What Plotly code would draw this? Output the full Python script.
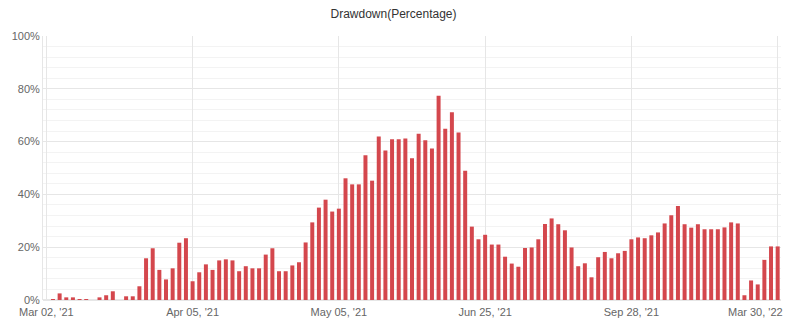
import plotly.graph_objects as go

# Drawdown per period, in percent
drawdown = [
    0.0, 0.3, 2.5, 1.0, 1.0, 0.3, 0.3, 0.0, 1.0, 1.8,
    3.3, 0.0, 1.4, 1.4, 5.2, 15.8, 19.6, 11.4, 7.8, 12.0,
    21.7, 23.4, 7.1, 10.5, 13.5, 11.4, 15.0, 15.4, 15.0, 10.9,
    12.8, 12.0, 12.0, 17.2, 19.6, 10.9, 10.9, 13.1, 14.3, 21.8,
    29.4, 35.0, 38.0, 33.5, 34.6, 46.1, 43.8, 43.8, 54.8, 45.2,
    61.9, 56.6, 60.9, 60.9, 61.2, 53.7, 63.0, 60.5, 57.4, 77.4,
    64.9, 71.1, 63.4, 49.0, 27.8, 23.0, 24.7, 21.0, 21.0, 16.4,
    13.8, 12.6, 19.7, 19.9, 23.0, 28.8, 30.9, 28.7, 26.4, 19.9,
    12.8, 13.9, 8.6, 16.2, 18.2, 15.8, 17.7, 18.6, 23.0, 23.7,
    23.4, 24.5, 25.6, 29.0, 32.1, 35.6, 28.7, 27.4, 28.7, 26.8,
    26.8, 26.8, 27.5, 29.4, 29.0, 1.8, 7.4, 5.9, 15.2, 20.3,
    20.3,
]

# Labelled periods on the category axis
tick_index = [0, 22, 44, 66, 88, 110]
tick_labels = ["Mar 02, '21", "Apr 05, '21", "May 05, '21",
               "Jun 25, '21", "Sep 28, '21", "Mar 30, '22"]

y_ticks = [0, 20, 40, 60, 80, 100]
y_labels = [f"{v}%" for v in y_ticks]

FONT = "Liberation Sans, Arial, sans-serif"
BAR = "#d4474d"
GRID = "#e6e6e6"
MINOR = "#f3f3f3"

x = list(range(len(drawdown)))

fig = go.Figure(
    go.Bar(x=x, y=drawdown, marker=dict(color=BAR, line=dict(width=0)),
           hoverinfo="y")
)

# The last label is right-aligned to its tick so it stays inside the page
shown_text = tick_labels[:-1] + [""]

fig.update_layout(
    width=787,
    height=329,
    margin=dict(l=43, r=6, t=36, b=29),
    paper_bgcolor="white",
    plot_bgcolor="white",
    bargap=0.4,
    showlegend=False,
    font=dict(family=FONT, size=11, color="#666666"),
    title=dict(
        text="Drawdown(Percentage)",
        x=0.5, xanchor="center",
        y=1 - 14 / 329, yanchor="middle",
        font=dict(family=FONT, size=12, color="#333333"),
    ),
    xaxis=dict(
        range=[-0.5, len(drawdown) - 0.5],
        tickmode="array",
        tickvals=tick_index,
        ticktext=shown_text,
        showgrid=True,
        gridcolor=GRID,
        gridwidth=1,
        zeroline=False,
        showline=False,
        ticks="",
        ticklen=0,
        ticklabelstandoff=4,
        tickfont=dict(size=11, color="#666666"),
        fixedrange=True,
    ),
    yaxis=dict(
        range=[0, 100],
        tickmode="array",
        tickvals=y_ticks,
        ticktext=y_labels,
        showgrid=True,
        gridcolor=GRID,
        gridwidth=1,
        zeroline=True,
        zerolinecolor=GRID,
        showline=True,
        linecolor=GRID,
        linewidth=1,
        ticks="",
        ticklen=3,
        tickfont=dict(size=11, color="#666666"),
        minor=dict(dtick=4, tick0=0, showgrid=True, gridcolor=MINOR, gridwidth=1),
        fixedrange=True,
    ),
)

fig.add_annotation(
    x=tick_index[-1], y=0, xref="x", yref="y",
    text=tick_labels[-1], showarrow=False,
    xanchor="right", yanchor="top", xshift=7, yshift=-4,
    font=dict(family=FONT, size=11, color="#666666"),
)

fig.write_html("out.html")
